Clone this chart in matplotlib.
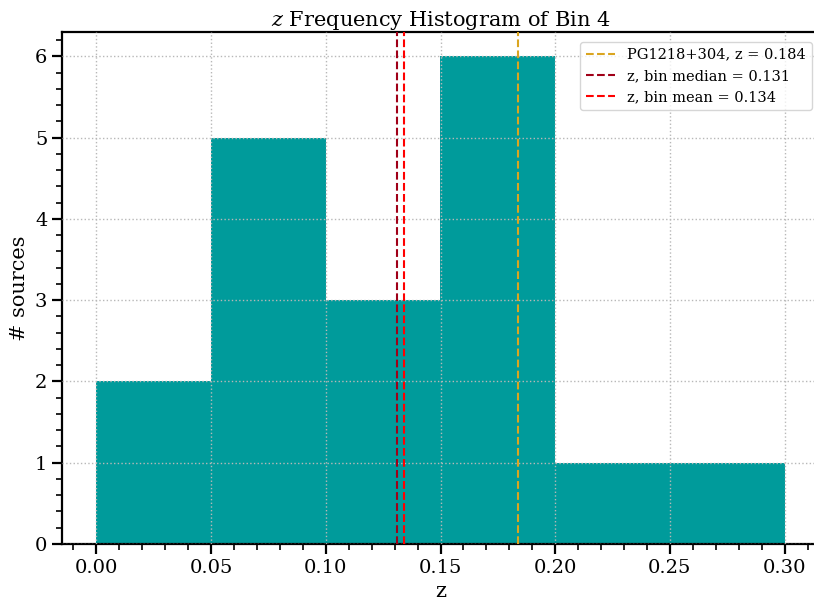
import numpy as np
import matplotlib
matplotlib.use("Agg")
import matplotlib.pyplot as plt
from matplotlib.ticker import AutoMinorLocator

plt.rcParams['font.family'] = 'DejaVu Serif'
plt.rcParams['mathtext.fontset'] = 'dejavuserif'

# histogram of redshifts in bin 4
bin_edges = [0.0, 0.05, 0.10, 0.15, 0.20, 0.30]
counts = [2, 5, 3, 6, 1]

z_source = 0.184
z_median = 0.131
z_mean = 0.134

fig = plt.figure(figsize=(8.14, 6.08), dpi=100)
ax = fig.add_axes([62 / 814, 64 / 608, 757 / 814, 512 / 608])

ax.hist(bin_edges[:-1], bins=bin_edges, weights=counts, color='#009b9b', zorder=1)
ax.grid(True, linestyle=':', color='#b8b8b8', linewidth=1, zorder=2)
ax.set_axisbelow(False)

ax.axvline(z_source, color='goldenrod', linestyle='--', linewidth=1.5,
           label='PG1218+304, z = %.3f' % z_source, zorder=3)
ax.axvline(z_median, color='#a00018', linestyle='--', linewidth=1.5,
           label='z, bin median = %.3f' % z_median, zorder=3)
ax.axvline(z_mean, color='red', linestyle='--', linewidth=1.5,
           label='z, bin mean = %.3f' % z_mean, zorder=3)

ax.set_xlim(-0.015, 0.315)
ax.set_ylim(0, 6.3)
ax.set_xticks(np.arange(0, 0.31, 0.05))
ax.xaxis.set_minor_locator(AutoMinorLocator(5))
ax.yaxis.set_minor_locator(AutoMinorLocator(5))
ax.tick_params(which='major', length=7, width=1.6, labelsize=14)
ax.tick_params(which='minor', length=4, width=1.2)
for s in ax.spines.values():
    s.set_linewidth(1.6)
ax.spines['right'].set_visible(False)

ax.set_xlabel('z', fontsize=15)
ax.set_ylabel('# sources', fontsize=15)
ax.set_title('$z$ Frequency Histogram of Bin 4', fontsize=15, pad=4)
ax.legend(loc='upper right', bbox_to_anchor=(1.0, 0.995), fontsize=10.5)

fig.savefig('out.png', dpi=100)
